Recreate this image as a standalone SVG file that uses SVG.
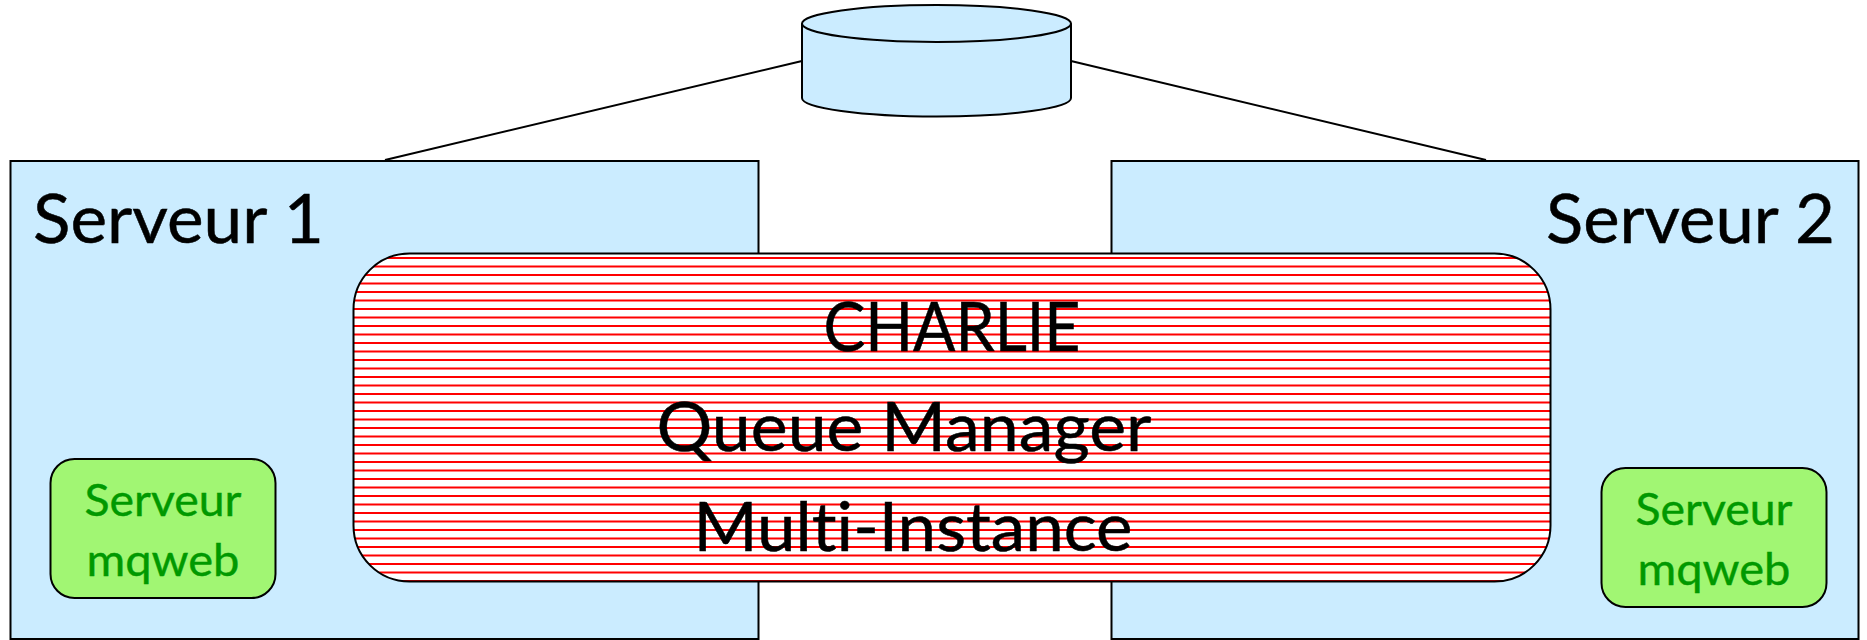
<svg xmlns="http://www.w3.org/2000/svg" width="1867" height="640" viewBox="0 0 1867 640">
<style>
.s{stroke:#000;stroke-width:2}
.b{fill:#cbecff}
.g{fill:#a1f673}
.t{font-family:Lato,"Liberation Sans",sans-serif;fill:#000;stroke:#000;stroke-width:.5;font-size:67px;font-variant-ligatures:none}
.m{font-family:Lato,"Liberation Sans",sans-serif;fill:#009900;stroke:#009900;stroke-width:.4;font-size:44px;text-anchor:middle;font-variant-ligatures:none}
</style>
<defs>
<pattern id="hatch" patternUnits="userSpaceOnUse" x="0" y="1" width="17" height="17">
<rect width="17" height="17" fill="#fff"/>
<rect y="1" width="17" height="2" fill="#f00"/>
<rect y="9.5" width="17" height="2" fill="#f00"/>
</pattern>
</defs>
<g id="connectors" fill="none" stroke="#000" stroke-width="2">
<line x1="802" y1="61" x2="385" y2="160"/>
<line x1="1071" y1="61" x2="1486" y2="160"/>
</g>
<g id="storage">
<path class="s b" d="M802 23.5V98C802 108 862 116.500 936.500 116.500S1071 108 1071 98V23.500"/>
<ellipse class="s b" cx="936.500" cy="23.500" rx="134.500" ry="18.500"/>
</g>
<g id="serveur1">
<rect class="s b" x="10.500" y="161" width="748" height="478"/>
<text class="t" x="33" y="243" textLength="291" lengthAdjust="spacingAndGlyphs">Serveur 1</text>
</g>
<g id="serveur2">
<rect class="s b" x="1111.500" y="161" width="747" height="478"/>
<text class="t" x="1546" y="243" textLength="289" lengthAdjust="spacingAndGlyphs">Serveur 2</text>
</g>
<g id="charlie">
<rect class="s" x="353.500" y="253.500" width="1197" height="328" rx="56" ry="56" fill="url(#hatch)"/>
<text class="t" x="952" y="351" text-anchor="middle" textLength="257" lengthAdjust="spacingAndGlyphs">CHARLIE</text>
<text class="t" x="904" y="451" text-anchor="middle" textLength="495" lengthAdjust="spacingAndGlyphs">Queue Manager</text>
<text class="t" x="913" y="551" text-anchor="middle" textLength="439" lengthAdjust="spacingAndGlyphs">Multi-Instance</text>
</g>
<g id="mqweb1">
<rect class="s g" x="50.500" y="459" width="225" height="139" rx="24" ry="24"/>
<text class="m" x="163" y="516" textLength="157" lengthAdjust="spacingAndGlyphs">Serveur</text>
<text class="m" x="163" y="576" textLength="153" lengthAdjust="spacingAndGlyphs">mqweb</text>
</g>
<g id="mqweb2">
<rect class="s g" x="1601.500" y="468" width="225" height="139" rx="24" ry="24"/>
<text class="m" x="1714" y="525" textLength="157" lengthAdjust="spacingAndGlyphs">Serveur</text>
<text class="m" x="1714" y="585" textLength="153" lengthAdjust="spacingAndGlyphs">mqweb</text>
</g>
</svg>
